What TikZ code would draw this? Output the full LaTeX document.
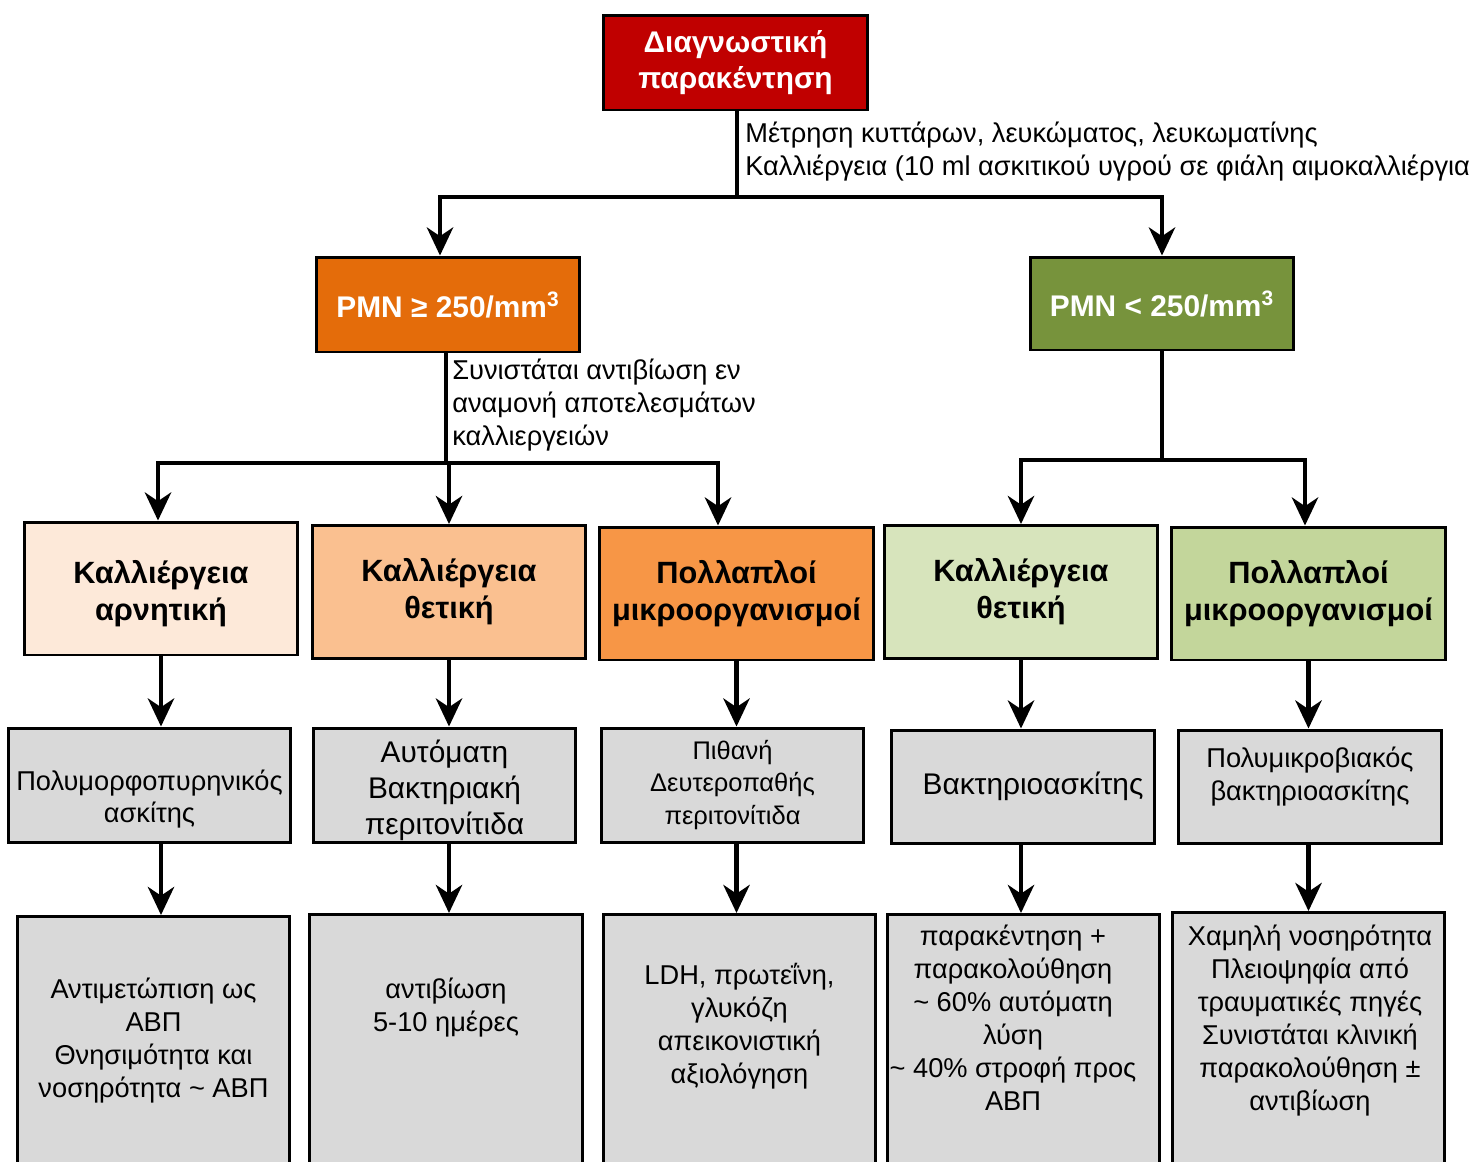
\documentclass[tikz,border=0pt]{standalone}
\usepackage{fontspec}
\setmainfont{Liberation Sans}
\usetikzlibrary{arrows.meta, positioning, calc}
\definecolor{diagred}{HTML}{C00000}
\definecolor{pmnorange}{HTML}{E46C0A}
\definecolor{pmngreen}{HTML}{77933C}
\definecolor{negpeach}{HTML}{FDE9D9}
\definecolor{pospeach}{HTML}{FAC090}
\definecolor{multorange}{HTML}{F79646}
\definecolor{posgreen}{HTML}{D7E4BC}
\definecolor{multgreen}{HTML}{C3D69B}
\definecolor{boxgray}{HTML}{D9D9D9}
\tikzset{
  box/.style={draw=black, line width=1.7pt, inner sep=0pt, align=center},
  headbox/.style={box, text=white, minimum width=5.28cm, minimum height=1.9cm,
    font=\fontsize{17}{20.5}\selectfont\bfseries},
  cultbox/.style={box, minimum width=5.48cm, minimum height=2.66cm,
    font=\fontsize{17.5}{21}\selectfont\bfseries},
  dxbox/.style={box, fill=boxgray, minimum width=5.26cm, minimum height=2.28cm,
    font=\fontsize{15.5}{18.7}\selectfont},
  rxbox/.style={box, fill=boxgray, minimum width=5.46cm, minimum height=6cm, anchor=north},
  plaintext/.style={font=\fontsize{15.5}{18.7}\selectfont, align=left, inner sep=0pt},
  link/.style={line width=2.3pt},
  arr/.style={link, -{Stealth[length=16pt, width=15pt, inset=5pt]}}
}
\newcommand{\bigtext}{\fontsize{17}{20.5}\selectfont}
\newcommand{\smalltext}{\fontsize{14.5}{18.7}\selectfont}

\begin{document}
\begin{tikzpicture}[x=0.02cm, y=-0.02cm]
  \useasboundingbox (0,0) rectangle (1471,1161);
  \clip (0,0) rectangle (1471,1161);

  % top
  \node[headbox, fill=diagred] (diag) at (735.5,62.5) {Διαγνωστική\\παρακέντηση};
  \node[headbox, fill=pmnorange] (pmnhi) at (448,304.5) {PMN ≥ 250/mm\textsuperscript{3}};
  \node[headbox, fill=pmngreen, minimum height=1.86cm] (pmnlo) at (1162,303.5) {PMN < 250/mm\textsuperscript{3}};
  \node[plaintext, anchor=north west] (measure) at (745,122)
    {Μέτρηση κυττάρων, λευκώματος, λευκωματίνης\\Καλλιέργεια (10 ml ασκιτικού υγρού σε φιάλη αιμοκαλλιέργια};

  \coordinate (split) at (737,197);
  \draw[link] (diag.south -| split) -- (split);
  \draw[arr] (split) -| ([xshift=-0.16cm]pmnhi.north);
  \draw[arr] (split) -| (pmnlo.north);

  % culture results
  \node[cultbox, fill=negpeach] (cneg) at (161,588.5) {\mbox{}\\[-2.3pt]Καλλιέργεια\\αρνητική};
  \node[cultbox, fill=pospeach] (cposa) at (449,592) {Καλλιέργεια\\θετική};
  \node[cultbox, fill=multorange] (cmulta) at (736.5,593.5) {Πολλαπλοί\\μικροοργανισμοί};
  \node[cultbox, fill=posgreen] (cposb) at (1021,592) {Καλλιέργεια\\θετική};
  \node[cultbox, fill=multgreen] (cmultb) at (1308.5,593.5) {Πολλαπλοί\\μικροοργανισμοί};

  \node[plaintext, anchor=north west] (abx) at (452,359)
    {Συνιστάται αντιβίωση εν\\αναμονή αποτελεσμάτων\\καλλιεργειών};

  \coordinate (splithi) at (446,463);
  \coordinate (splitlo) at (1162,460);
  \draw[link] (pmnhi.south -| splithi) -- (splithi);
  \draw[arr] (splithi) -| ([xshift=-0.06cm]cneg.north);
  \draw[arr] (splithi) -| (cposa.north);
  \draw[arr] (splithi) -| ([xshift=-0.37cm]cmulta.north);
  \draw[link] (pmnlo.south) -- (splitlo);
  \draw[arr] (splitlo) -| (cposb.north);
  \draw[arr] (splitlo) -| ([xshift=-0.07cm]cmultb.north);

  % diagnosis
  \node[dxbox, minimum width=5.66cm] (dxa) at (149.5,785) {\mbox{}\\[9pt]Πολυμορφοπυρηνικός\\ασκίτης};
  \node[dxbox, font=\bigtext] (dxb) at (444.5,785) {\mbox{}\\[-1.8pt]Αυτόματη\\Βακτηριακή\\περιτονίτιδα};
  \node[dxbox, font=\smalltext] (dxc) at (732.5,785) {Πιθανή\\Δευτεροπαθής\\περιτονίτιδα};
  \node[dxbox, minimum width=5.28cm, minimum height=2.26cm, font=\bigtext] (dxd) at (1023,786.5) {\hspace{0.4cm}Βακτηριοασκίτης};
  \node[dxbox, minimum width=5.28cm, minimum height=2.26cm] (dxe) at (1310,786.5) {Πολυμικροβιακός\\βακτηριοασκίτης\\[-4.6pt]};

  % management
  \node[rxbox] (rxa) at (153.5,915) {};
  \node[rxbox] (rxb) at (446,913) {};
  \node[rxbox] (rxc) at (739.5,913) {};
  \node[rxbox] (rxd) at (1023.5,913) {};
  \node[rxbox] (rxe) at (1308.5,911) {};

  \node[plaintext, align=center, anchor=north] (rxatext) at (153.5,978)
    {Αντιμετώπιση ως\\ΑΒΠ\\Θνησιμότητα και\\νοσηρότητα \textasciitilde\ ΑΒΠ};
  \node[plaintext, align=center, anchor=north] (rxbtext) at (446,978)
    {αντιβίωση\\5-10 ημέρες};
  \node[plaintext, align=center, anchor=north] (rxctext) at (739.5,963)
    {LDH, πρωτεΐνη,\\γλυκόζη\\απεικονιστική\\αξιολόγηση};
  \node[plaintext, align=center, anchor=north] (rxdtext) at (1013,925)
    {παρακέντηση +\\παρακολούθηση\\\textasciitilde\ 60\% αυτόματη\\λύση\\\textasciitilde\ 40\% στροφή προς\\ΑΒΠ};
  \node[plaintext, align=center, anchor=north] (rxetext) at (1310,925)
    {Χαμηλή νοσηρότητα\\Πλειοψηφία από\\τραυματικές πηγές\\Συνιστάται κλινική\\παρακολούθηση ±\\αντιβίωση};

  \foreach \c/\d/\r in {cneg/dxa/rxa, cposa/dxb/rxb, cmulta/dxc/rxc, cposb/dxd/rxd, cmultb/dxe/rxe} {
    \draw[arr] (\c.south) -- (\c.south |- \d.north);
    \draw[arr] (\c.south |- \d.south) -- (\c.south |- \r.north);
  }
\end{tikzpicture}
\end{document}
